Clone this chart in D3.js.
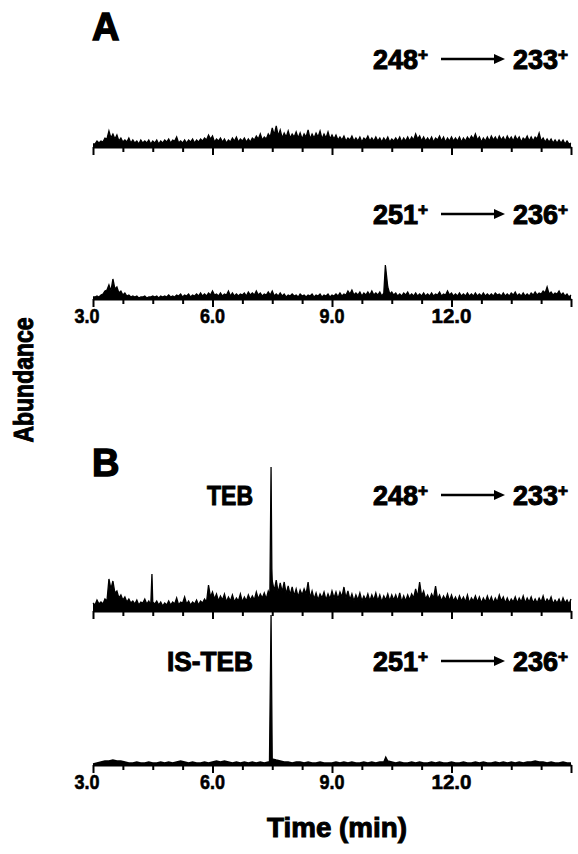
<!DOCTYPE html>
<html>
<head>
<meta charset="utf-8">
<script src="https://cdn.jsdelivr.net/npm/d3@7"></script>
<style>
  body { margin: 0; background: #fff; }
  text { font-family: "Liberation Sans", Arial, sans-serif; font-weight: bold; fill: #000; stroke: #000; stroke-width: 1; }
</style>
</head>
<body>
<svg width="578" height="854"></svg>
<script>
// scan times: one reading every 0.1 min from 3.0 min, in-between readings at +0.05
var scanStart = 3.0, scanStep = 0.1;

var tickMajor = [3, 6, 9, 12, 15];
var tickMinor = [3.75, 4.5, 5.25, 6.75, 7.5, 8.25, 9.75, 10.5, 11.25, 12.75, 13.5, 14.25];
var tickLabelValues = [3, 6, 9, 12];
var tickLabels = ["3.0", "6.0", "9.0", "12.0"];

// abundance (arbitrary units)
var aTop248 = [3,6,6,9,16,13,12,9,7,9, 7,6,7,6,7,6,7,6,7,8, 7,10,6,7,7,8,7,8,9,12,
  11,8,9,8,7,9,10,8,9,8, 9,11,13,10,13,19,21,17,14,16, 13,15,14,13,17,13,14,16,13,15,
  12,12,10,11,9,11,9,10,9,11, 9,10,9,9,10,8,9,10,9,10, 10,13,11,10,9,10,9,11,10,9,
  10,9,10,9,10,11,13,10,9,10, 11,10,11,10,11,10,11,10,9,11, 10,10,14,9,8,8,7,7,7,6, 4];
var aTop248Mid = [3,4,5,8,9,8,6,5,5,4, 4,3,4,4,3,4,3,4,5,4, 6,4,4,4,5,4,5,6,7,8,
  5,6,5,4,5,6,5,6,5,5, 7,8,7,8,10,12,11,9,10,9, 10,9,8,10,8,9,10,8,9,8,
  8,7,7,6,7,6,6,5,7,6, 6,6,5,6,5,6,6,5,6,6, 7,8,6,6,6,5,7,6,5,6,
  6,6,5,6,7,8,7,5,6,6, 7,6,7,6,7,6,7,5,7,6, 6,8,6,5,5,4,4,4,3,3];

var aBot251 = [2,3,4,8,14,20,12,8,6,4, 3,3,2,3,2,3,3,3,3,4, 3,4,5,4,5,4,5,6,5,6,
  8,5,6,5,8,6,5,5,6,7, 6,8,6,5,7,8,5,6,5,4, 5,4,5,4,4,5,4,5,4,5,
  4,5,6,5,8,9,6,7,6,7, 8,6,7,6,12,7,6,5,6,7, 5,6,5,6,5,6,5,7,5,8,
  6,5,6,5,6,5,6,5,6,5, 5,6,5,6,5,6,7,5,6,5, 6,7,6,8,12,7,6,8,6,5, 4];
var aBot251Mid = [2,2,5,9,8,10,6,4,3,2, 2,1,2,1,2,2,1,2,2,2, 2,3,2,3,2,3,3,3,3,4,
  4,3,3,4,3,3,3,4,3,4, 4,4,3,4,4,3,3,3,2,3, 3,2,3,2,3,2,3,2,3,2,
  3,3,3,4,5,4,4,3,4,4, 4,4,3,null,5,4,3,3,4,3, 3,3,3,3,3,3,4,3,4,4,
  3,3,3,3,3,3,3,3,3,3, 3,4,3,3,3,4,3,3,3,3, 4,4,5,6,5,4,5,4,3,2];

var bTop248 = [8,11,9,12,32,30,20,16,14,12, 10,11,9,12,10,9,10,9,8,10, 9,13,9,14,10,9,11,10,12,26,
  19,17,15,17,14,16,13,17,14,16, 15,19,17,18,20,30,31,28,29,25, 24,22,21,22,29,20,18,17,19,17,
  20,19,19,24,20,17,16,18,15,17, 16,18,16,15,17,16,16,18,15,16, 17,22,29,20,16,17,25,16,15,17,
  16,14,15,14,16,13,15,14,13,15, 14,13,16,14,13,12,14,13,15,13, 14,12,13,15,12,14,11,12,13,11, 12];
var bTop248Mid = [6,7,7,10,22,18,13,11,9,8, 7,6,8,7,6,7,6,5,6,6, 7,6,8,7,6,7,6,8,9,14,
  12,10,11,9,10,9,10,9,10,11, 11,12,13,12,null,20,18,19,17,16, 15,14,16,17,13,12,11,13,11,12,
  13,12,14,13,11,10,11,10,11,10, 11,10,9,11,10,11,10,9,10,11, 13,14,15,12,11,13,12,10,11,10,
  10,9,10,9,8,10,9,8,9,9, 8,9,10,8,8,9,8,9,8,9, 8,8,9,8,9,7,8,7,8,7];

var bBot251 = [1,2,3,4,4,5,4,4,3,2, 2,3,2,2,3,2,2,3,2,3, 2,3,4,3,2,3,2,2,3,2,
  3,4,3,4,3,2,3,2,3,2, 3,2,3,2,3,3,5,4,3,3, 2,3,3,2,3,2,2,3,2,2,
  2,3,2,3,2,3,2,2,3,2, 3,2,3,3,4,3,2,3,2,2, 3,2,3,2,2,3,2,3,2,2,
  3,2,2,3,2,2,3,2,3,2, 2,3,2,3,2,3,2,3,2,3, 3,4,3,3,2,3,2,2,3,2, 2];
var bBot251Mid = [];

// narrow peaks between scans: [time (min), abundance]
var aTopSpikes = [];
var aBotSpikes = [[10.34, 34]];
var bTopSpikes = [[4.48, 37], [7.44, 16], [7.47, 144], [7.49, 42]];
var bBotSpikes = [[7.43, 3], [7.47, 150], [7.51, 6], [10.35, 8]];

var svg = d3.select("svg");

var x = d3.scaleLinear().domain([3, 15]).range([93, 571]);

var panels = [
  { base: 147, values: aTop248, mid: aTop248Mid, spikes: aTopSpikes, from: "248", to: "233", labelY: 69, labels: false },
  { base: 299, values: aBot251, mid: aBot251Mid, spikes: aBotSpikes, from: "251", to: "236", labelY: 224, labels: true },
  { base: 611, values: bTop248, mid: bTop248Mid, spikes: bTopSpikes, from: "248", to: "233", labelY: 505, labels: false, name: "TEB", nameW: 46 },
  { base: 765, values: bBot251, mid: bBot251Mid, spikes: bBotSpikes, from: "251", to: "236", labelY: 671, labels: true, name: "IS-TEB", nameW: 86 }
];

panels.forEach(function(p) {
  var y = d3.scaleLinear().domain([0, 150]).range([p.base, p.base - 150]);

  var data = p.values.map(function(v, i) { return { t: scanStart + i * scanStep, v: v }; })
    .concat(p.mid.map(function(v, i) { return { t: scanStart + (i + 0.5) * scanStep, v: v }; }))
    .concat(p.spikes.map(function(s) { return { t: s[0], v: s[1] }; }))
    .filter(function(d) { return d.v != null; })
    .sort(function(a, b) { return a.t - b.t; });

  var area = d3.area()
    .x(function(d) { return x(d.t); })
    .y0(y(0))
    .y1(function(d) { return y(d.v); });
  var line = d3.line()
    .x(function(d) { return x(d.t); })
    .y(function(d) { return y(d.v); });

  svg.append("path").datum(data).attr("d", area).attr("fill", "#000");
  svg.append("path").datum(data).attr("d", line)
    .attr("fill", "none").attr("stroke", "#000").attr("stroke-width", 1.3);

  var ax = svg.append("g").attr("transform", "translate(0," + p.base + ")");
  ax.call(d3.axisBottom(x).tickValues(tickMajor).tickSize(8).tickSizeOuter(0).tickFormat(""));
  ax.append("g")
    .call(d3.axisBottom(x).tickValues(tickMinor).tickSize(5).tickFormat(""))
    .select(".domain").remove();
  ax.selectAll("path, line").attr("stroke", "#000").attr("stroke-width", 2);

  if (p.labels) {
    svg.selectAll(null).data(tickLabelValues).enter().append("text")
      .attr("x", function(d) { return d === 3 ? x(d) - 6 : x(d); })
      .attr("y", p.base + 24)
      .attr("text-anchor", "middle")
      .attr("font-size", 21)
      .style("stroke-width", 0.6)
      .attr("textLength", function(d, i) { return tickLabels[i].length > 3 ? 40 : 25; })
      .attr("lengthAdjust", "spacingAndGlyphs")
      .text(function(d, i) { return tickLabels[i]; });
  }

  // transition label  m/z -> m/z
  var t1 = svg.append("text").attr("x", 373).attr("y", p.labelY).attr("font-size", 27);
  t1.append("tspan").text(p.from);
  t1.append("tspan").attr("dy", -9).attr("font-size", 17).text("+");
  var ay = p.labelY - 10;
  svg.append("line").attr("x1", 441).attr("x2", 497).attr("y1", ay).attr("y2", ay)
    .attr("stroke", "#000").attr("stroke-width", 2.4);
  svg.append("path").attr("d", "M494," + (ay - 5) + "L505," + ay + "L494," + (ay + 5) + "Z")
    .attr("fill", "#000");
  var t2 = svg.append("text").attr("x", 513).attr("y", p.labelY).attr("font-size", 27);
  t2.append("tspan").text(p.to);
  t2.append("tspan").attr("dy", -9).attr("font-size", 17).text("+");

  if (p.name) {
    svg.append("text").attr("x", 253).attr("y", p.labelY)
      .attr("text-anchor", "end").attr("font-size", 27)
      .attr("textLength", p.nameW).attr("lengthAdjust", "spacingAndGlyphs")
      .text(p.name);
  }
});

svg.append("text").attr("x", 92).attr("y", 40).attr("font-size", 38).style("stroke-width", 1.4).text("A");
svg.append("text").attr("x", 92).attr("y", 476).attr("font-size", 38).style("stroke-width", 1.4).text("B");

svg.append("text").attr("x", 337).attr("y", 837).attr("text-anchor", "middle")
  .attr("font-size", 28).attr("textLength", 140).attr("lengthAdjust", "spacingAndGlyphs")
  .text("Time (min)");

svg.append("text").attr("transform", "translate(33,380) rotate(-90)")
  .attr("text-anchor", "middle").attr("font-size", 28)
  .attr("textLength", 125).attr("lengthAdjust", "spacingAndGlyphs")
  .text("Abundance");
</script>
</body>
</html>
